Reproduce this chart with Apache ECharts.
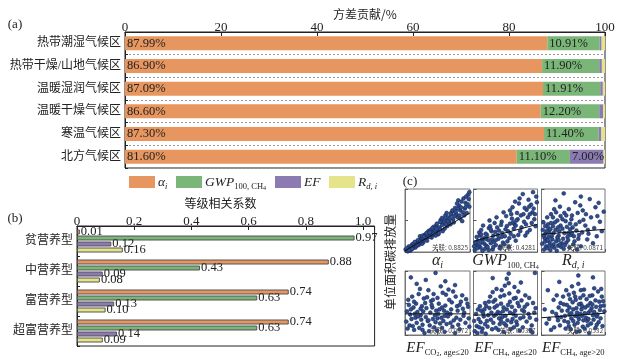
<!DOCTYPE html>
<html><head><meta charset="utf-8">
<script src="https://cdn.jsdelivr.net/npm/echarts@6/dist/echarts.min.js"></script>
<style>html,body{margin:0;padding:0;background:#fff}#c{width:619px;height:359px}</style>
</head><body><div id="c"></div>
<script>
// ---------- data ----------
const catsA = ['热带潮湿气候区','热带干燥/山地气候区','温暖湿润气候区','温暖干燥气候区','寒温气候区','北方气候区'];
const alphaA = [87.99, 86.90, 87.09, 86.60, 87.30, 81.60];
const gwpA   = [10.91, 11.90, 11.91, 12.20, 11.40, 11.10];
const efA    = [0.40, 0.55, 0.55, 0.80, 0.55, 7.00];
const rdA    = [0.70, 0.65, 0.45, 0.40, 0.75, 0.30];
const ticksA = [0, 20, 40, 60, 80, 100];

const catsB = ['贫营养型','中营养型','富营养型','超富营养型'];
const alphaB = [0.01, 0.88, 0.74, 0.74];
const gwpB   = [0.97, 0.43, 0.63, 0.63];
const efB    = [0.12, 0.09, 0.13, 0.14];
const rdB    = [0.16, 0.08, 0.10, 0.09];
const ticksB = [0, 0.2, 0.4, 0.6, 0.8, 1.0];

const scAlpha = [[0.02,0.03],[0.37,0.29],[0.81,0.55],[0.14,0.09],[0.56,0.47],[0.07,0.06],[0.93,0.78],[0.28,0.15],[0.65,0.41],[0.45,0.36],[0.11,0.12],[0.72,0.63],[0.33,0.22],[0.88,0.49],[0.19,0.17],[0.51,0.28],[0.04,0.01],[0.97,0.91],[0.62,0.58],[0.24,0.2],[0.41,0.23],[0.77,0.7],[0.16,0.07],[0.58,0.33],[0.09,0.04],[0.85,0.66],[0.3,0.27],[0.68,0.48],[0.48,0.42],[0.21,0.11],[0.99,0.72],[0.53,0.39],[0.12,0.06],[0.74,0.52],[0.36,0.33],[0.9,0.85],[0.26,0.13],[0.61,0.37],[0.43,0.31],[0.06,0.09],[0.79,0.6],[0.17,0.14],[0.55,0.51],[0.34,0.18],[0.95,0.62],[0.66,0.55],[0.23,0.25],[0.47,0.26],[0.83,0.74],[0.01,0.04],[0.39,0.35],[0.7,0.44],[0.13,0.13],[0.59,0.45],[0.29,0.19],[0.87,0.8],[0.5,0.33],[0.08,0.02],[0.76,0.57],[0.44,0.4],[0.18,0.1],[0.64,0.62],[0.32,0.28],[0.92,0.69],[0.54,0.36],[0.27,0.22],[0.73,0.66],[0.15,0.16],[0.98,0.84],[0.42,0.27],[0.05,0.05],[0.81,0.69],[0.35,0.25],[0.63,0.5],[0.22,0.14],[0.89,0.63],[0.49,0.45],[0.1,0.08],[0.69,0.53],[0.38,0.24],[0.84,0.58],[0.57,0.43],[0.25,0.17],[0.94,0.88],[0.46,0.34],[0.03,0.06],[0.71,0.59],[0.31,0.23],[0.6,0.52],[0.2,0.19],[0.86,0.71],[0.52,0.3],[0.15,0.11],[0.78,0.64],[0.4,0.32],[0.96,0.76],[0.67,0.46],[0.27,0.26],[0.57,0.54],[0.11,0.05],[0.75,0.47],[0.44,0.29],[0.82,0.82],[0.33,0.3],[0.91,0.58],[0.63,0.44],[0.19,0.12],[0.99,0.95],[0.48,0.37],[0.7,0.61],[0.38,0.31],[0.06,0.03],[0.85,0.53],[0.54,0.48],[0.23,0.16],[0.93,0.71],[0.66,0.49],[0.29,0.24],[0.8,0.77],[0.42,0.38]];
const scGwp = [[0.04,0.12],[0.52,0.41],[0.18,0.05],[0.83,0.67],[0.31,0.26],[0.66,0.18],[0.09,0.31],[0.95,0.52],[0.42,0.09],[0.24,0.38],[0.71,0.77],[0.13,0.2],[0.58,0.29],[0.36,0.55],[0.88,0.35],[0.02,0.03],[0.47,0.63],[0.27,0.14],[0.79,0.48],[0.61,0.71],[0.15,0.42],[0.98,0.88],[0.39,0.21],[0.55,0.08],[0.21,0.27],[0.74,0.58],[0.07,0.18],[0.86,0.83],[0.33,0.46],[0.63,0.37],[0.11,0.07],[0.49,0.25],[0.92,0.63],[0.28,0.33],[0.69,0.52],[0.17,0.13],[0.81,0.26],[0.44,0.48],[0.05,0.24],[0.57,0.66],[0.35,0.11],[0.9,0.75],[0.23,0.19],[0.64,0.44],[0.12,0.35],[0.77,0.92],[0.4,0.34],[0.53,0.17],[0.97,0.41],[0.3,0.04],[0.68,0.62],[0.19,0.29],[0.85,0.55],[0.46,0.15],[0.03,0.15],[0.6,0.53],[0.26,0.41],[0.73,0.33],[0.14,0.02],[0.94,0.69],[0.37,0.39],[0.51,0.57],[0.08,0.09],[0.82,0.44],[0.29,0.2],[0.65,0.8],[0.45,0.3],[0.2,0.1],[0.88,0.6],[0.56,0.22],[0.1,0.26],[0.75,0.39],[0.34,0.32],[0.99,0.79],[0.41,0.06],[0.16,0.22],[0.62,0.47],[0.25,0.5],[0.8,0.7],[0.5,0.36],[0.06,0.06],[0.7,0.27],[0.32,0.16],[0.91,0.46],[0.43,0.43],[0.22,0.08],[0.59,0.6],[0.84,0.31],[0.38,0.27],[0.14,0.16],[0.67,0.5],[0.48,0.12],[0.96,0.6],[0.27,0.36],[0.72,0.85],[0.1,0.13],[0.54,0.33],[0.31,0.08],[0.87,0.72],[0.19,0.21],[0.63,0.25],[0.01,0.09],[0.44,0.24],[0.78,0.6],[0.24,0.03],[0.57,0.45],[0.93,0.95],[0.35,0.19],[0.66,0.42],[0.12,0.28]];
const scRd = [[0.05,0.22],[0.18,0.41],[0.31,0.08],[0.09,0.55],[0.42,0.3],[0.23,0.17],[0.6,0.48],[0.14,0.03],[0.36,0.62],[0.02,0.35],[0.27,0.26],[0.5,0.12],[0.11,0.38],[0.74,0.29],[0.2,0.68],[0.45,0.45],[0.07,0.09],[0.33,0.37],[0.58,0.21],[0.16,0.25],[0.88,0.57],[0.25,0.5],[0.39,0.15],[0.03,0.47],[0.65,0.66],[0.19,0.12],[0.48,0.58],[0.12,0.31],[0.29,0.72],[0.55,0.34],[0.08,0.18],[0.81,0.14],[0.35,0.05],[0.22,0.35],[0.69,0.42],[0.15,0.6],[0.41,0.24],[0.04,0.04],[0.53,0.79],[0.26,0.1],[0.95,0.33],[0.1,0.44],[0.38,0.49],[0.62,0.09],[0.17,0.2],[0.46,0.27],[0.3,0.57],[0.78,0.55],[0.06,0.29],[0.24,0.02],[0.57,0.62],[0.13,0.15],[0.43,0.68],[0.34,0.21],[0.72,0.2],[0.01,0.13],[0.21,0.47],[0.49,0.39],[0.85,0.71],[0.28,0.33],[0.09,0.06],[0.64,0.31],[0.37,0.11],[0.18,0.55],[0.52,0.17],[0.92,0.48],[0.14,0.36],[0.4,0.4],[0.25,0.23],[0.7,0.6],[0.06,0.41],[0.32,0.14],[0.59,0.27],[0.2,0.07],[0.47,0.52],[0.83,0.38],[0.11,0.24],[0.36,0.3],[0.76,0.84],[0.23,0.63],[0.44,0.07],[0.03,0.26],[0.66,0.51],[0.3,0.42],[0.16,0.09],[0.54,0.44],[0.98,0.64],[0.27,0.19],[0.08,0.33],[0.61,0.74],[0.42,0.19],[0.19,0.3],[0.87,0.25],[0.33,0.52],[0.12,0.1],[0.51,0.25],[0.26,0.39],[0.73,0.35],[0.05,0.16],[0.39,0.58],[0.56,0.04],[0.15,0.46],[0.35,0.93],[0.62,0.88],[0.9,0.78],[0.22,0.82],[0.48,0.3],[0.29,0.12],[0.1,0.19],[0.45,0.36]];
const scEfCo2 = [[0.08,0.32],[0.45,0.12],[0.72,0.51],[0.21,0.64],[0.56,0.27],[0.93,0.19],[0.33,0.42],[0.14,0.08],[0.67,0.71],[0.39,0.35],[0.02,0.21],[0.81,0.38],[0.5,0.58],[0.27,0.16],[0.61,0.05],[0.17,0.49],[0.88,0.62],[0.43,0.25],[0.11,0.6],[0.75,0.23],[0.3,0.03],[0.97,0.44],[0.53,0.4],[0.24,0.31],[0.64,0.17],[0.06,0.47],[0.84,0.09],[0.36,0.7],[0.47,0.2],[0.19,0.36],[0.7,0.33],[0.58,0.66],[0.12,0.14],[0.9,0.3],[0.4,0.53],[0.26,0.45],[0.78,0.6],[0.49,0.07],[0.04,0.1],[0.62,0.46],[0.35,0.22],[0.86,0.52],[0.16,0.27],[0.55,0.76],[0.73,0.13],[0.29,0.57],[0.98,0.26],[0.42,0.43],[0.09,0.4],[0.66,0.29],[0.22,0.11],[0.8,0.45],[0.51,0.33],[0.32,0.28],[0.94,0.56],[0.14,0.52],[0.6,0.38],[0.44,0.64],[0.77,0.03],[0.25,0.24],[0.68,0.55],[0.03,0.37],[0.38,0.15],[0.85,0.24],[0.52,0.49],[0.18,0.19],[0.71,0.4],[0.57,0.11],[0.31,0.5],[0.91,0.35],[0.1,0.25],[0.63,0.63],[0.46,0.31],[0.23,0.72],[0.82,0.16],[0.37,0.06],[0.59,0.22],[0.13,0.43],[0.96,0.49],[0.48,0.38],[0.28,0.37],[0.74,0.68],[0.54,0.18],[0.07,0.15],[0.41,0.47],[0.89,0.41],[0.2,0.29],[0.65,0.35],[0.34,0.59],[0.79,0.27],[0.15,0.33],[0.5,0.26],[0.99,0.13],[0.27,0.08],[0.7,0.19],[0.43,0.55],[0.05,0.55],[0.61,0.3],[0.84,0.47],[0.36,0.23],[0.09,0.9],[0.47,0.97],[0.62,0.84],[0.18,0.8],[0.77,0.78],[0.32,0.86],[0.57,0.43],[0.24,0.41]];
const scEfCh4a = [[0.05,0.14],[0.48,0.62],[0.23,0.31],[0.71,0.45],[0.12,0.38],[0.59,0.2],[0.36,0.72],[0.88,0.27],[0.29,0.09],[0.52,0.4],[0.08,0.25],[0.66,0.58],[0.41,0.17],[0.95,0.35],[0.18,0.5],[0.77,0.12],[0.33,0.43],[0.55,0.81],[0.02,0.06],[0.62,0.33],[0.26,0.6],[0.84,0.48],[0.45,0.28],[0.14,0.1],[0.7,0.68],[0.38,0.36],[0.91,0.15],[0.21,0.22],[0.57,0.52],[0.47,0.05],[0.1,0.45],[0.79,0.37],[0.31,0.19],[0.64,0.75],[0.43,0.49],[0.16,0.29],[0.87,0.58],[0.53,0.23],[0.25,0.42],[0.73,0.26],[0.04,0.33],[0.49,0.77],[0.35,0.11],[0.81,0.62],[0.19,0.02],[0.6,0.44],[0.42,0.6],[0.97,0.42],[0.28,0.35],[0.68,0.16],[0.11,0.2],[0.5,0.3],[0.75,0.54],[0.34,0.55],[0.89,0.08],[0.22,0.13],[0.56,0.65],[0.07,0.4],[0.46,0.37],[0.66,0.3],[0.3,0.67],[0.83,0.21],[0.15,0.34],[0.58,0.09],[0.4,0.26],[0.93,0.5],[0.2,0.45],[0.63,0.57],[0.37,0.46],[0.76,0.39],[0.01,0.22],[0.51,0.15],[0.27,0.24],[0.86,0.33],[0.44,0.7],[0.13,0.05],[0.69,0.5],[0.32,0.3],[0.61,0.25],[0.18,0.17],[0.54,0.47],[0.8,0.44],[0.39,0.08],[0.98,0.24],[0.24,0.52],[0.65,0.38],[0.09,0.12],[0.47,0.43],[0.72,0.07],[0.35,0.32],[0.57,0.35],[0.43,0.22],[0.78,0.28],[0.17,0.4],[0.52,0.88],[0.92,0.04],[0.31,0.52],[0.67,0.21],[0.06,0.03],[0.48,0.18],[0.55,0.96],[0.3,0.89],[0.96,0.97],[0.74,0.82],[0.41,0.34],[0.63,0.12]];
const scEfCh4b = [[0.12,0.25],[0.55,0.42],[0.78,0.18],[0.34,0.6],[0.91,0.52],[0.46,0.09],[0.67,0.71],[0.23,0.33],[0.83,0.36],[0.59,0.25],[0.4,0.47],[0.96,0.14],[0.71,0.56],[0.05,0.4],[0.51,0.66],[0.87,0.29],[0.29,0.15],[0.63,0.4],[0.75,0.03],[0.44,0.32],[0.19,0.55],[0.93,0.45],[0.57,0.19],[0.8,0.62],[0.36,0.22],[0.68,0.34],[0.48,0.76],[0.99,0.37],[0.27,0.43],[0.61,0.58],[0.85,0.11],[0.42,0.2],[0.73,0.46],[0.15,0.08],[0.53,0.3],[0.89,0.68],[0.32,0.38],[0.65,0.13],[0.77,0.5],[0.49,0.51],[0.08,0.18],[0.58,0.8],[0.82,0.24],[0.38,0.1],[0.95,0.6],[0.7,0.27],[0.24,0.62],[0.52,0.16],[0.86,0.44],[0.62,0.49],[0.43,0.63],[0.74,0.35],[0.31,0.28],[0.9,0.2],[0.56,0.35],[0.66,0.62],[0.2,0.12],[0.79,0.42],[0.47,0.26],[0.97,0.53],[0.6,0.06],[0.35,0.48],[0.83,0.73],[0.54,0.55],[0.72,0.22],[0.41,0.38],[0.88,0.32],[0.64,0.45],[0.26,0.23],[0.76,0.61],[0.5,0.4],[0.93,0.26],[0.68,0.1],[0.45,0.56],[0.81,0.31],[0.57,0.29],[0.37,0.3],[0.98,0.46],[0.62,0.7],[0.17,0.36],[0.73,0.15],[0.5,0.22],[0.85,0.54],[0.59,0.48],[0.3,0.5],[0.77,0.38],[0.43,0.14],[0.66,0.23],[0.92,0.39],[0.55,0.05],[0.8,0.48],[0.39,0.7],[0.69,0.43],[0.47,0.34],[0.87,0.16],[0.61,0.33],[0.25,0.28],[0.74,0.25],[0.53,0.6],[0.94,0.72],[0.58,0.93],[0.28,0.83],[0.81,0.9],[0.1,0.7],[0.64,0.3],[0.44,0.43]];

const fitAlpha = [[0,0.02],[1,0.62]];
const fitGwp = [[0,0.17],[1,0.44]];
const fitRd = [[0,0.28],[1,0.36]];
const fitEfCo2 = [[0,0.33],[1,0.33]];
const fitEfCh4a = [[0,0.31],[1,0.33]];
const fitEfCh4b = [[0,0.27],[1,0.34]];
const corrVals = ['0.8825','0.4281','0.0871','-0.0072','0.0327','0.0532'];
const subNames = ['{it|α}{si|i}','{it|GWP}{sr|100, CH}{ss|4}','{it|R}{si|d, i}','{ie|EF}{sr|CO}{ss|2}{sr|, age≤20}','{ie|EF}{sr|CH}{ss|4}{sr|, age≤20}','{ie|EF}{sr|CH}{ss|4}{sr|, age>20}'];
const axisTitleA = '方差贡献/%';
const axisTitleB = '等级相关系数';
const axisTitleC = '单位面积碳排放量';

// ---------- styling ----------
const SERIF = "'Liberation Serif','Times New Roman',serif";
const MIX = "'Liberation Serif','Noto Sans CJK SC',sans-serif";
const TXT = '#222';
const COL = {alpha:'#E8965F', gwp:'#7BB679', ef:'#8B7BB2', rd:'#E6E48A'};
const names = ['alpha','gwp','ef','rd'];
const legendText = {alpha:'{it|α}{si|i}', gwp:'{it|GWP}{sr|100, CH}{ss|4}', ef:'{it|EF}', rd:'{it|R}{si|d, i}'};

const chart = echarts.init(document.getElementById('c'), null, {renderer:'canvas'});

const grids = [
  {left:125, top:32, width:480, height:136},
  {left:77, top:226, width:297.6, height:120}
];
const scLefts = [405, 473.5, 541.5], scWidths = [65, 64, 63.5];
const scTops = [189, 271], scHeights = [63, 64];
for (let r=0;r<2;r++) for (let c=0;c<3;c++) grids.push({left:scLefts[c], top:scTops[r], width:scWidths[c], height:scHeights[r]});
grids.forEach((g,i)=>{ g.show=true; g.borderColor = i<2?'#222':'#777'; g.borderWidth=1; g.containLabel=false; });

const xAxes = [
  {gridIndex:0, type:'value', position:'top', min:0, max:100, interval:20,
   axisLine:{show:true, lineStyle:{color:'#222'}}, axisTick:{show:true, inside:true, length:4, lineStyle:{color:'#222'}},
   axisLabel:{margin:-2, fontSize:13, color:TXT, fontFamily:SERIF}, splitLine:{show:false}},
  {gridIndex:1, type:'value', position:'top', min:0, max:1.04, interval:0.2,
   axisLine:{show:true, lineStyle:{color:'#222'}}, axisTick:{show:true, inside:true, length:4, lineStyle:{color:'#222'}},
   axisLabel:{margin:-2, fontSize:13, color:TXT, fontFamily:SERIF,
     formatter:v=>{ if (v>1.001) return ''; return v===0?'0':v.toFixed(1);} }, splitLine:{show:false}}
];
const yAxes = [
  {gridIndex:0, type:'category', data:catsA, inverse:true,
   axisLine:{show:true, lineStyle:{color:'#222'}}, axisTick:{show:true, inside:true, length:3, lineStyle:{color:'#222'}},
   axisLabel:{margin:4, fontSize:12, color:TXT, fontFamily:MIX},
   splitLine:{show:true, lineStyle:{type:[2,2], color:'#999', width:1}}},
  {gridIndex:1, type:'category', data:catsB, inverse:true,
   axisLine:{show:true, lineStyle:{color:'#222'}}, axisTick:{show:true, inside:true, length:3, lineStyle:{color:'#222'}},
   axisLabel:{margin:4, fontSize:12, color:TXT, fontFamily:MIX}, splitLine:{show:false}}
];
for (let k=0;k<6;k++){
  const base = {gridIndex:k+2, type:'value', min:0, max:1, interval:0.5,
    axisLine:{show:true, lineStyle:{color:'#777'}}, axisTick:{show:true, inside:true, length:3, lineStyle:{color:'#555'}},
    axisLabel:{show:false}, splitLine:{show:false}};
  xAxes.push(Object.assign({}, base));
  yAxes.push(Object.assign({}, base));
}

const series = [];
const dataA = {alpha:alphaA, gwp:gwpA, ef:efA, rd:rdA};
names.forEach(n=>{
  series.push({type:'bar', name:n, xAxisIndex:0, yAxisIndex:0, stack:'a', barWidth:14, data:dataA[n],
    itemStyle:{color:COL[n]},
    label:{show:true, position:'insideLeft', distance:2, fontSize:12.5, color:TXT, fontFamily:SERIF,
      formatter:p=> p.value>=5 ? p.value.toFixed(2)+'%' : ''}});
});
const dataB = {alpha:alphaB, gwp:gwpB, ef:efB, rd:rdB};
names.forEach(n=>{
  series.push({type:'bar', name:n, xAxisIndex:1, yAxisIndex:1, barWidth:5, barGap:'20%', data:dataB[n],
    itemStyle:{color:COL[n], borderColor:'#555', borderWidth:1},
    label:{show:true, position:'right', distance:1, fontSize:12.5, color:TXT, fontFamily:SERIF,
      formatter:p=> p.value.toFixed(2)}});
});
const scDatas = [scAlpha, scGwp, scRd, scEfCo2, scEfCh4a, scEfCh4b];
const fits = [fitAlpha, fitGwp, fitRd, fitEfCo2, fitEfCh4a, fitEfCh4b];
scDatas.forEach((d,k)=>{
  series.push({type:'scatter', xAxisIndex:k+2, yAxisIndex:k+2, data:d, symbolSize:3.8,
    itemStyle:{color:'#2F4F8E', borderColor:'#18295A', borderWidth:0.6, opacity:1}, silent:true});
  series.push({type:'line', xAxisIndex:k+2, yAxisIndex:k+2, data:fits[k], symbol:'none', z:5,
    lineStyle:{color:'#111', width:1}, silent:true});
});

const legendLefts = [124, 171, 270, 324];
const legends = names.map((n,i)=>({
  left:legendLefts[i], top:170, orient:'horizontal', itemWidth:26, itemHeight:12, itemGap:0,
  data:[{name:n, icon:'rect'}], selectedMode:false,
  formatter: name => legendText[name],
  textStyle:{color:TXT, fontFamily:SERIF, padding:[0,0,0,-2],
    rich:{
      it:{fontFamily:SERIF, fontStyle:'italic', fontSize:13.5, lineHeight:18, color:TXT},
      si:{fontFamily:SERIF, fontStyle:'italic', fontSize:8.5, lineHeight:11, verticalAlign:'bottom', color:TXT},
      sr:{fontFamily:SERIF, fontSize:8.5, lineHeight:11, verticalAlign:'bottom', color:TXT},
      ss:{fontFamily:SERIF, fontSize:6, lineHeight:6, verticalAlign:'bottom', color:TXT}
    }}
}));

const richC = {
  it:{fontFamily:SERIF, fontStyle:'italic', fontSize:16, lineHeight:18, fill:TXT},
  ie:{fontFamily:SERIF, fontStyle:'italic', fontSize:15, lineHeight:18, fill:TXT},
  si:{fontFamily:SERIF, fontStyle:'italic', fontSize:10, lineHeight:12, verticalAlign:'bottom', fill:TXT},
  sr:{fontFamily:SERIF, fontSize:8.5, lineHeight:12, verticalAlign:'bottom', fill:TXT},
  ss:{fontFamily:SERIF, fontSize:6, lineHeight:7, verticalAlign:'bottom', fill:TXT}
};
const graphics = [
  {type:'text', x:15, y:25, style:{text:'(a)', font:"13px "+SERIF, fill:TXT, align:'center', verticalAlign:'middle'}},
  {type:'text', x:15, y:219, style:{text:'(b)', font:"13px "+SERIF, fill:TXT, align:'center', verticalAlign:'middle'}},
  {type:'text', x:410, y:182, style:{text:'(c)', font:"13px "+SERIF, fill:TXT, align:'center', verticalAlign:'middle'}},
  {type:'text', x:365, y:14, style:{text:axisTitleA, font:"12px 'Noto Sans CJK SC'", fill:TXT, align:'center', verticalAlign:'middle'}},
  {type:'text', x:220.5, y:203, style:{text:axisTitleB, font:"12px 'Noto Sans CJK SC'", fill:TXT, align:'center', verticalAlign:'middle'}},
  {type:'text', x:390, y:262, rotation:Math.PI/2, style:{text:axisTitleC, font:"12px 'Noto Sans CJK SC'", fill:TXT, align:'center', verticalAlign:'middle'}}
];
const labelYs = [261, 348];
for (let k=0;k<6;k++){
  const r = Math.floor(k/3), c = k%3;
  const cx = scLefts[c] + scWidths[c]/2;
  graphics.push({type:'text', x:cx, y:labelYs[r], style:{text:subNames[k], rich:richC, align:'center', verticalAlign:'middle', fill:TXT}});
  graphics.push({type:'text', x:scLefts[c]+scWidths[c]-2, y:scTops[r]+scHeights[r]-4, z:10,
    style:{text:'关联: '+corrVals[k], font:"6.5px 'Noto Sans CJK SC'", fill:'#444', align:'right', verticalAlign:'middle'}});
}

chart.setOption({
  animation:false,
  backgroundColor:'#fff',
  grid:grids, xAxis:xAxes, yAxis:yAxes, series:series, legend:legends, graphic:graphics
});
</script></body></html>
